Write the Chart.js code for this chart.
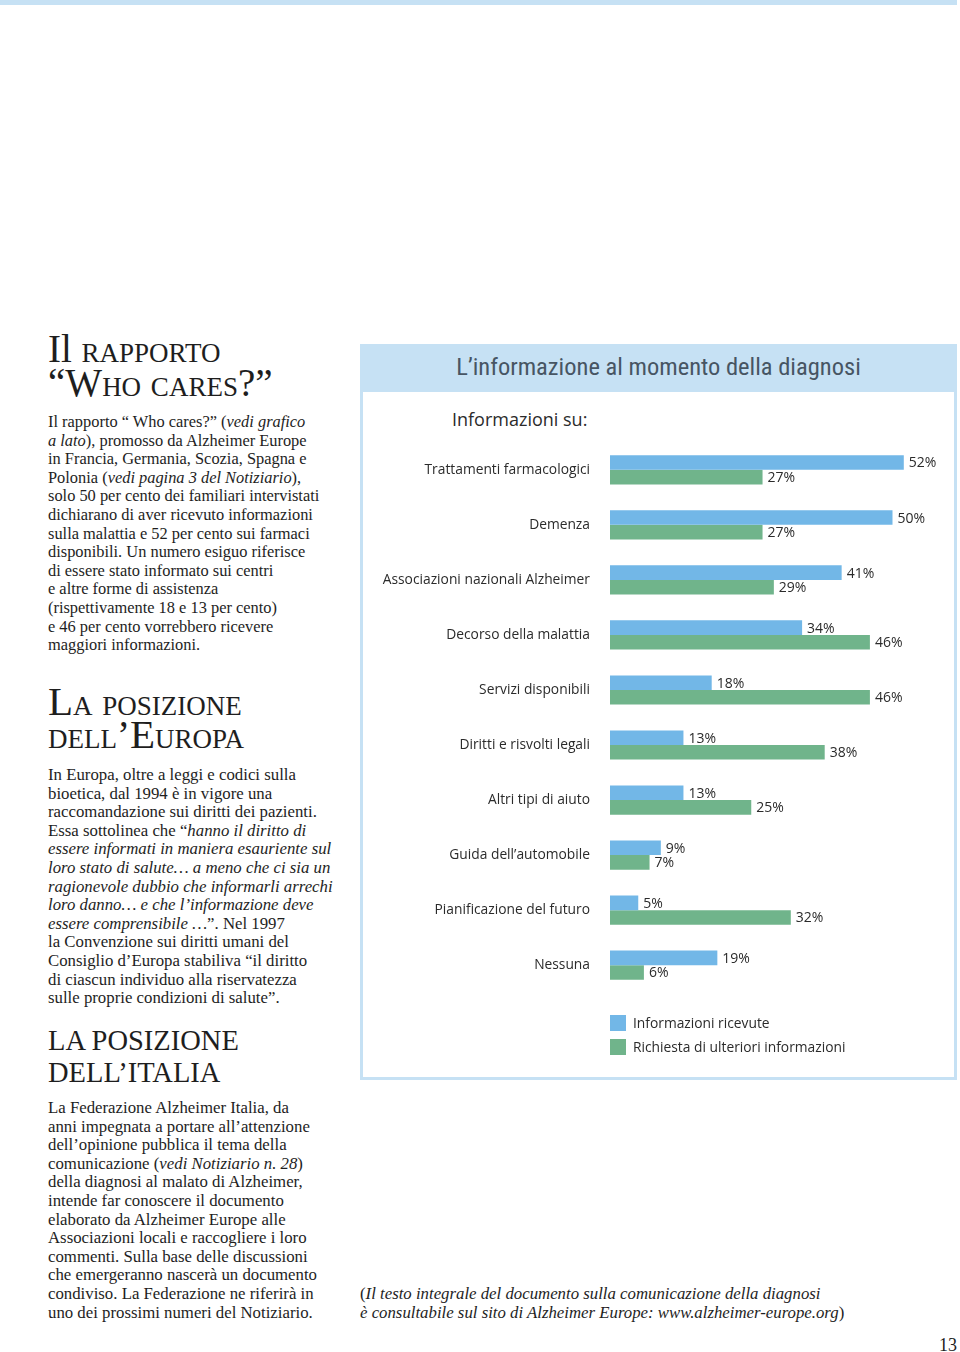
<!DOCTYPE html>
<html lang="it">
<head>
<meta charset="utf-8">
<script src="https://cdn.jsdelivr.net/npm/chart.js@4.4.1/dist/chart.umd.min.js"></script>
<style>
    html, body { margin: 0; padding: 0; background: #fff; }
    body { width: 960px; height: 1352px; position: relative; overflow: hidden; font-family: "Liberation Serif", "Times New Roman", serif; color: #1e1e1e; }
    .topbar { position: absolute; left: 0; top: 0; width: 957px; height: 5px; background: #c6e1f4; }
    .hl { position: absolute; left: 48px; white-space: nowrap; line-height: 40px; height: 40px; }
    .hl .big { font-size: 39px; }
    .hl .sc { font-size: 39px; font-variant: small-caps; }
    .hl.caps { font-size: 28.5px; }
    .body { position: absolute; left: 48px; white-space: nowrap; font-size: 16.4px; line-height: 18.6px; }
    .body.wide { font-size: 16.8px; }
    .foot { position: absolute; left: 360px; top: 1285px; white-space: nowrap; font-size: 16.8px; line-height: 18.8px; }
    .pagenum { position: absolute; left: 939px; top: 1335px; font-size: 18px; }
    .box { position: absolute; left: 360px; top: 344px; width: 591px; height: 733px; border: 3px solid #c6e1f4; border-top: none; }
    .band { position: absolute; left: 360px; top: 344px; width: 597px; height: 48px; background: #c6e1f4; }
    .title { position: absolute; left: 360px; top: 352px; width: 597px; text-align: center; font-family: "Liberation Sans Narrow", "Roboto Condensed", Roboto, sans-serif; font-size: 24.5px; color: #475563; }
    .sub { position: absolute; left: 452px; top: 407px; font-family: "Open Sans", sans-serif; font-size: 18px; color: #2b2b2b; }
    #chart { position: absolute; left: 362px; top: 414px; }
    .legend { position: absolute; left: 610px; top: 1013px; font-family: "Open Sans", sans-serif; font-size: 13.8px; color: #2b2b2b; }
    .legend div { height: 24px; line-height: 20px; white-space: nowrap; }
    .legend span { display: inline-block; width: 16px; height: 16px; vertical-align: -3px; margin-right: 7px; }
</style>
</head>
<body>
<div class="topbar"></div>

<div class="hl" style="top:329px;"><span class="big">Il</span><span class="sc"> rapporto</span></div>
<div class="hl" style="top:363px;"><span class="big">“W</span><span class="sc">ho cares?”</span></div>

<div class="body" style="top:413px;">
Il rapporto “ Who cares?” (<i>vedi grafico</i><br>
<i>a lato</i>), promosso da Alzheimer Europe<br>
in Francia, Germania, Scozia, Spagna e<br>
Polonia (<i>vedi pagina 3 del Notiziario</i>),<br>
solo 50 per cento dei familiari intervistati<br>
dichiarano di aver ricevuto informazioni<br>
sulla malattia e 52 per cento sui farmaci<br>
disponibili. Un numero esiguo riferisce<br>
di essere stato informato sui centri<br>
e altre forme di assistenza<br>
(rispettivamente 18 e 13 per cento)<br>
e 46 per cento vorrebbero ricevere<br>
maggiori informazioni.
</div>

<div class="hl" style="top:681px;"><span class="big" style="font-size:41px;">L</span><span class="sc">a posizione</span></div>
<div class="hl" style="top:714px;"><span class="sc">dell’</span><span class="big" style="font-size:41px;">E</span><span class="sc">uropa</span></div>

<div class="body wide" style="top:766px;">
In Europa, oltre a leggi e codici sulla<br>
bioetica, dal 1994 è in vigore una<br>
raccomandazione sui diritti dei pazienti.<br>
Essa sottolinea che “<i>hanno il diritto di</i><br>
<i>essere informati in maniera esauriente sul</i><br>
<i>loro stato di salute… a meno che ci sia un</i><br>
<i>ragionevole dubbio che informarli arrechi</i><br>
<i>loro danno… e che l’informazione deve</i><br>
<i>essere comprensibile …</i>”. Nel 1997<br>
la Convenzione sui diritti umani del<br>
Consiglio d’Europa stabiliva “il diritto<br>
di ciascun individuo alla riservatezza<br>
sulle proprie condizioni di salute”.
</div>

<div class="hl caps" style="top:1021px;">LA POSIZIONE</div>
<div class="hl caps" style="top:1053px;">DELL’ITALIA</div>

<div class="body wide" style="top:1099px;">
La Federazione Alzheimer Italia, da<br>
anni impegnata a portare all’attenzione<br>
dell’opinione pubblica il tema della<br>
comunicazione (<i>vedi Notiziario n. 28</i>)<br>
della diagnosi al malato di Alzheimer,<br>
intende far conoscere il documento<br>
elaborato da Alzheimer Europe alle<br>
Associazioni locali e raccogliere i loro<br>
commenti. Sulla base delle discussioni<br>
che emergeranno nascerà un documento<br>
condiviso. La Federazione ne riferirà in<br>
uno dei prossimi numeri del Notiziario.
</div>

<div class="foot">(<i>Il testo integrale del documento sulla comunicazione della diagnosi</i><br><i>è consultabile sul sito di Alzheimer Europe: www.alzheimer-europe.org</i>)</div>
<div class="pagenum">13</div>

<div class="box"></div>
<div class="band"></div>
<div class="title">L’informazione al momento della diagnosi</div>
<div class="sub">Informazioni su:</div>
<canvas id="chart" width="592" height="607"></canvas>
<div class="legend" id="legend"></div>

<script>
const categories = [
    'Trattamenti farmacologici',
    'Demenza',
    'Associazioni nazionali Alzheimer',
    'Decorso della malattia',
    'Servizi disponibili',
    'Diritti e risvolti legali',
    'Altri tipi di aiuto',
    'Guida dell’automobile',
    'Pianificazione del futuro',
    'Nessuna'
];
const informazioniRicevute = [52, 50, 41, 34, 18, 13, 13, 9, 5, 19];
const richiestaUlteriori = [27, 27, 29, 46, 46, 38, 25, 7, 32, 6];
const seriesLabels = ['Informazioni ricevute', 'Richiesta di ulteriori informazioni'];

const blue = '#72b7e7';
const green = '#70b48b';
const labelFont = '"Open Sans", sans-serif';

// percent labels at the end of each bar
const valueLabels = {
    id: 'valueLabels',
    afterDatasetsDraw(chart) {
        const ctx = chart.ctx;
        ctx.save();
        ctx.font = '14px ' + labelFont;
        ctx.fillStyle = '#2b2b2b';
        ctx.textAlign = 'left';
        ctx.textBaseline = 'middle';
        chart.data.datasets.forEach((ds, i) => {
            chart.getDatasetMeta(i).data.forEach((bar, j) => {
                ctx.fillText(ds.data[j] + '%', bar.x + 5, bar.y + 1);
            });
        });
        ctx.restore();
    }
};

const chart = new Chart(document.getElementById('chart'), {
    type: 'bar',
    data: {
        labels: categories,
        datasets: [{
            label: seriesLabels[0],
            data: informazioniRicevute,
            backgroundColor: blue,
            barPercentage: 1,
            categoryPercentage: 0.53
        }, {
            label: seriesLabels[1],
            data: richiestaUlteriori,
            backgroundColor: green,
            barPercentage: 1,
            categoryPercentage: 0.53
        }]
    },
    options: {
        indexAxis: 'y',
        responsive: false,
        animation: false,
        layout: { padding: { top: 11, bottom: 12, right: 5, left: 0 } },
        plugins: {
            legend: { display: false },
            tooltip: { enabled: false }
        },
        scales: {
            x: { display: false, min: 0, max: 60 },
            y: {
                grid: { display: false, drawTicks: false },
                border: { display: false },
                ticks: {
                    padding: 20,
                    color: '#2b2b2b',
                    font: { family: labelFont, size: 13.8 }
                },
                afterFit(scale) { scale.width = 248; }
            }
        }
    },
    plugins: [valueLabels]
});

// legend built from the datasets
const legendEl = document.getElementById('legend');
chart.data.datasets.forEach(ds => {
    const row = document.createElement('div');
    row.innerHTML = `<span style="background:${ds.backgroundColor}"></span>${ds.label}`;
    legendEl.appendChild(row);
});
</script>
</body>
</html>
